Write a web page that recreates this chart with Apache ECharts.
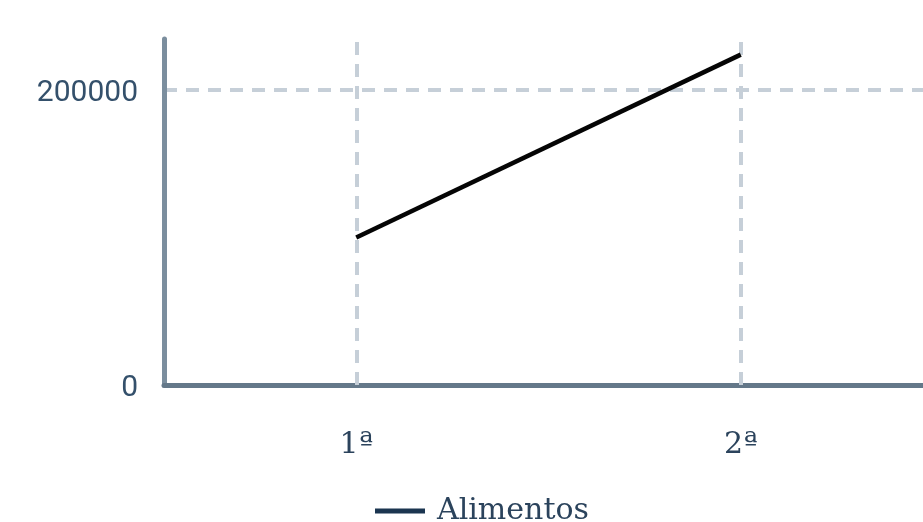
<!DOCTYPE html>
<html>
<head>
<meta charset="utf-8">
<script src="https://cdn.jsdelivr.net/npm/echarts@6/dist/echarts.min.js"></script>
<style>
html,body{margin:0;padding:0;overflow:hidden;background:#fff;}
#c{width:933px;height:522px;}
</style>
</head>
<body>
<div id="c"></div>
<script>
const categories = ['1ª', '2ª'];
const seriesName = 'Alimentos';
const alimentos = [100000, 224000];
const yMin = 0;
const yMax = 234600;
const yInterval = 200000;

const chart = echarts.init(document.getElementById('c'), null, {renderer: 'canvas'});
const gridColor = '#c6cfd8';
chart.setOption({
  animation: false,
  grid: {left: 164, right: 0, top: 39, bottom: 137, containLabel: false},
  legend: {
    data: [{name: seriesName, icon: 'rect'}],
    left: 375, top: 496, padding: 0,
    itemWidth: 50, itemHeight: 5, itemGap: 10,
    itemStyle: {color: '#1b3550'},
    textStyle: {fontFamily: 'DejaVu Serif', fontSize: 30, color: '#2b435c', padding: [0, 0, 0, 7]}
  },
  xAxis: {
    type: 'category',
    data: categories,
    boundaryGap: true,
    axisLine: {show: true, lineStyle: {color: '#647889', width: 5}},
    axisTick: {show: false},
    splitLine: {show: false},
    axisLabel: {fontFamily: 'DejaVu Serif', fontSize: 30, color: '#2b435c', margin: 45}
  },
  yAxis: {
    type: 'value',
    min: yMin, max: yMax, interval: yInterval,
    axisLine: {show: true, lineStyle: {color: '#7b8e9e', width: 5}},
    axisTick: {show: false},
    axisLabel: {fontFamily: 'Roboto', fontSize: 30, color: '#34506b', margin: 26,
      showMaxLabel: false, verticalAlign: 'top', lineHeight: 30, padding: [-12, 0, 0, 0],
      formatter: v => String(v)},
    splitLine: {show: true, showMinLine: false, showMaxLine: false,
      lineStyle: {color: gridColor, width: 4, type: [13, 9]}}
  },
  series: [{
    name: seriesName,
    type: 'line',
    data: alimentos,
    showSymbol: false,
    symbol: 'none',
    z: 5,
    lineStyle: {color: '#050505', width: 4.5},
    itemStyle: {color: '#1b3550'},
    markLine: {
      silent: true,
      symbol: 'none',
      z: 1,
      label: {show: false},
      lineStyle: {color: gridColor, width: 4, type: [13, 9]},
      data: categories.map(c => ({xAxis: c}))
    }
  }]
});
</script>
</body>
</html>
